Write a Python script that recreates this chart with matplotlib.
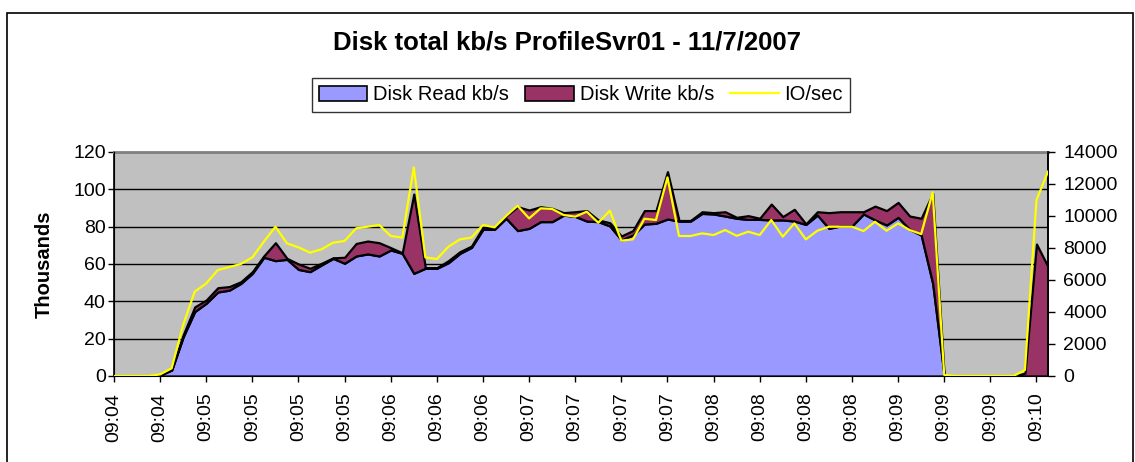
import matplotlib
matplotlib.use('Agg')
import matplotlib.pyplot as plt
from matplotlib.patches import Rectangle, Patch
from matplotlib.lines import Line2D
import numpy as np

plt.rcParams['font.family'] = ['Liberation Sans', 'DejaVu Sans']

# --- data: 82 samples ---
# Disk Read kb/s (thousands)
disk_read = [0, 0, 0, 0, 0.5, 3.2, 21, 34.5, 39, 45,
             46, 49.6, 55, 63.6, 61.8, 62.5, 57.1, 55.9, 59.5, 63,
             60.4, 64.3, 65.4, 64.3, 67.5, 65.7, 55, 57.7, 57.7, 60.7,
             65.7, 68.9, 78.6, 78.6, 84.5, 77.9, 79.1, 82.7, 82.7, 86.2,
             85.5, 83, 82.7, 80.4, 72.9, 75.5, 81.4, 81.8, 84.1, 83,
             83, 87.1, 86.8, 85.7, 84.5, 83.9, 83.9, 83.6, 83.6, 83,
             81.2, 86.2, 79.1, 80.4, 80.4, 86.8, 83.6, 80.9, 85, 78.6,
             75.5, 49.6, 0, 0, 0, 0, 0, 0, 0, 0,
             0, 0]
# Disk Write kb/s (thousands, stacked on top of read)
disk_write = [0, 0, 0, 0, 0.2, 0.3, 1, 2.5, 1.7, 2.3,
              1.9, 0.9, 0.9, 0.8, 9.6, 0.5, 2.9, 1.8, 0.9, 0.3,
              3.2, 6.7, 6.9, 7.1, 1.25, 0.3, 42.5, 0.3, 0.3, 1.1,
              0.9, 0.7, 1.0, 1.0, 1.2, 12.8, 9.8, 8, 7.1, 1.3,
              2.5, 5.6, 0.9, 1.7, 2.1, 2.4, 7.2, 6.8, 25.4, 0.3,
              0.3, 0.9, 0.7, 2.3, 0.5, 2.0, 0.6, 8.5, 1.8, 6.3,
              0.3, 1.8, 8.4, 7.6, 7.6, 1.2, 7.4, 7.7, 8, 7.1,
              9, 48.3, 0, 0, 0, 0, 0, 0, 0, 1.5,
              70.7, 58.6]
# IO/sec (right axis)
io_sec = [0, 0, 0, 0, 100, 480, 3200, 5270, 5790, 6620,
          6810, 7000, 7415, 8400, 9330, 8290, 8040, 7710, 7920, 8330,
          8440, 9230, 9330, 9440, 8750, 8650, 13040, 7415, 7310, 8080,
          8540, 8650, 9440, 9290, 10000, 10640, 9850, 10480, 10440, 10060,
          9960, 10270, 9580, 10330, 8460, 8540, 9830, 9750, 12415, 8750,
          8750, 8915, 8810, 9125, 8760, 9020, 8810, 9750, 8710, 9540,
          8540, 9080, 9330, 9330, 9330, 9060, 9640, 9080, 9540, 9125,
          8870, 11480, 60, 0, 0, 0, 0, 0, 0, 375,
          11000, 12770]

tick_labels = ['09:04', '09:04', '09:05', '09:05', '09:05', '09:05', '09:06',
               '09:06', '09:06', '09:07', '09:07', '09:07', '09:07', '09:08',
               '09:08', '09:08', '09:08', '09:09', '09:09', '09:09', '09:10']

read_color = '#9999FF'
write_color = '#993366'
io_color = '#FFFF00'

fig = plt.figure(figsize=(11.35, 4.62), dpi=100)
ax = fig.add_axes([114 / 1135, 1 - 376 / 462, (1048 - 114) / 1135, (376 - 152) / 462])

x = np.arange(len(disk_read))
ax.set_facecolor('#C0C0C0')
ax.stackplot(x, disk_read, disk_write, colors=[read_color, write_color],
             edgecolor='black', linewidth=1.6, zorder=3)

ax.set_xlim(0, len(x) - 1)
ax.set_ylim(0, 120)
ax.set_yticks(np.arange(0, 121, 20))
ax.yaxis.grid(True, color='black', linewidth=1.0, zorder=1)
ax.set_axisbelow(True)
ax.set_xticks(x[::4])
ax.set_xticklabels(tick_labels, rotation=90, fontsize=14)
ax.tick_params(axis='y', labelsize=14, direction='out', length=4, width=1, pad=2)
ax.tick_params(axis='x', direction='out', length=4, width=1, pad=8)
ax.set_ylabel('Thousands', fontsize=14.5, fontweight='bold', labelpad=14)
for side in ['left', 'bottom', 'right']:
    ax.spines[side].set_color('black')
    ax.spines[side].set_linewidth(1.2)
ax.spines['top'].set_color('#808080')
ax.spines['top'].set_linewidth(2)

ax2 = ax.twinx()
ax2.plot(x, io_sec, color=io_color, linewidth=1.6, zorder=4)
ax2.set_ylim(0, 14000)
ax2.set_yticks(np.arange(0, 14001, 2000))
ax2.tick_params(axis='y', labelsize=14, direction='out', length=5, width=1, pad=6)
ax2.spines['right'].set_linewidth(1.2)
ax2.spines['top'].set_visible(False)

fig.text(567 / 1135, 1 - 42 / 462, 'Disk total kb/s ProfileSvr01 - 11/7/2007',
         ha='center', va='center', fontsize=18.5, fontweight='bold')

handles = [Patch(facecolor=read_color, edgecolor='black', linewidth=1.2),
           Patch(facecolor=write_color, edgecolor='black', linewidth=1.2),
           Line2D([0], [0], color=io_color, linewidth=1.6)]
leg = fig.legend(handles, ['Disk Read kb/s', 'Disk Write kb/s', 'IO/sec'],
                 loc='center', bbox_to_anchor=(581 / 1135, 1 - 95 / 462), ncol=3,
                 fontsize=14.5, frameon=True, fancybox=False, handlelength=2.4,
                 handletextpad=0.3, columnspacing=0.8, borderpad=0.35)
leg.get_frame().set_edgecolor('black')
leg.get_frame().set_linewidth(1.0)

fig.patches.append(Rectangle((7 / 1135, -0.05), 1126 / 1135, 0.05 + 1 - 13 / 462,
                             transform=fig.transFigure, fill=False,
                             edgecolor='black', linewidth=1.2))

fig.savefig('out.png', dpi=100)
